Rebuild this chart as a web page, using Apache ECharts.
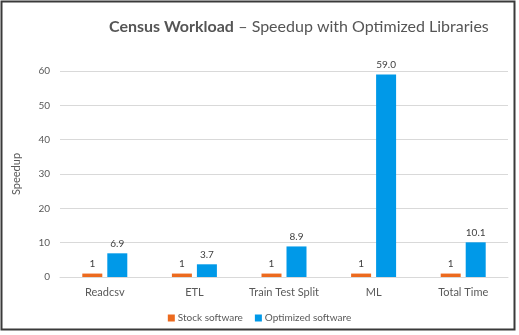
<!DOCTYPE html>
<html>
<head>
<meta charset="utf-8">
<script src="https://cdn.jsdelivr.net/npm/echarts@6/dist/echarts.min.js"></script>
<style>
  html, body { margin: 0; padding: 0; background: #fff; }
  #chart { width: 519px; height: 335px; }
</style>
</head>
<body>
<div id="chart"></div>
<script>
// Census workload speedup per stage
const categories = ['Readcsv', 'ETL', 'Train Test Split', 'ML', 'Total Time'];
const stockValues = [1, 1, 1, 1, 1];
const optimizedValues = [6.9, 3.7, 8.9, 59.0, 10.1];
const yTicks = { min: 0, max: 60, interval: 10 };

const FONT = 'Lato, "Noto Sans", sans-serif';
const chart = echarts.init(document.getElementById('chart'));

chart.setOption({
  backgroundColor: '#ffffff',
  animation: false,
  textStyle: { fontFamily: FONT },
  title: {
    text: '{b|Census Workload} {n|– Speedup with Optimized Libraries}',
    left: 104,
    top: 13,
    textStyle: {
      rich: {
        b: { fontFamily: FONT, fontSize: 16, fontWeight: 'bold', color: '#555555' },
        n: { fontFamily: FONT, fontSize: 16, fontWeight: 'normal', color: '#555555' }
      }
    }
  },
  graphic: [{
    type: 'rect',
    shape: { x: 1.5, y: 1.5, width: 513, height: 328 },
    style: { fill: null, stroke: '#3a3a3a', lineWidth: 2 },
    silent: true
  }],
  legend: {
    bottom: 7,
    left: 'center',
    itemWidth: 7,
    itemHeight: 7,
    itemGap: 12,
    icon: 'rect',
    textStyle: { fontFamily: FONT, fontSize: 10, color: '#595959', padding: [0, 0, 0, -2] },
    data: ['Stock software', 'Optimized software']
  },
  grid: { left: 60, right: 11, top: 71, bottom: 58, containLabel: false },
  xAxis: {
    type: 'category',
    data: categories,
    axisLine: { lineStyle: { color: '#d9d9d9', width: 1 } },
    axisTick: { show: false },
    axisLabel: { interval: 0, fontFamily: FONT, fontSize: 11, color: '#595959', margin: 10 }
  },
  yAxis: {
    type: 'value',
    min: yTicks.min,
    max: yTicks.max,
    interval: yTicks.interval,
    name: 'Speedup',
    nameLocation: 'middle',
    nameGap: 38,
    nameTextStyle: { fontFamily: FONT, fontSize: 11, color: '#595959' },
    axisLine: { show: false },
    axisTick: { show: false },
    axisLabel: { fontFamily: FONT, fontSize: 10, color: '#595959', margin: 10 },
    splitLine: { lineStyle: { color: '#d9d9d9', width: 1 } }
  },
  series: [
    {
      name: 'Stock software',
      type: 'bar',
      data: stockValues,
      barWidth: 20,
      barGap: '25%',
      itemStyle: { color: '#ec6a1e' },
      label: {
        show: true, position: 'top', distance: 5,
        fontFamily: FONT, fontSize: 10, color: '#404040',
        formatter: p => String(p.value)
      }
    },
    {
      name: 'Optimized software',
      type: 'bar',
      data: optimizedValues,
      barWidth: 20,
      itemStyle: { color: '#0099e8' },
      label: {
        show: true, position: 'top', distance: 5,
        fontFamily: FONT, fontSize: 10, color: '#404040',
        formatter: p => Number(p.value).toFixed(1)
      }
    }
  ]
});
</script>
</body>
</html>
